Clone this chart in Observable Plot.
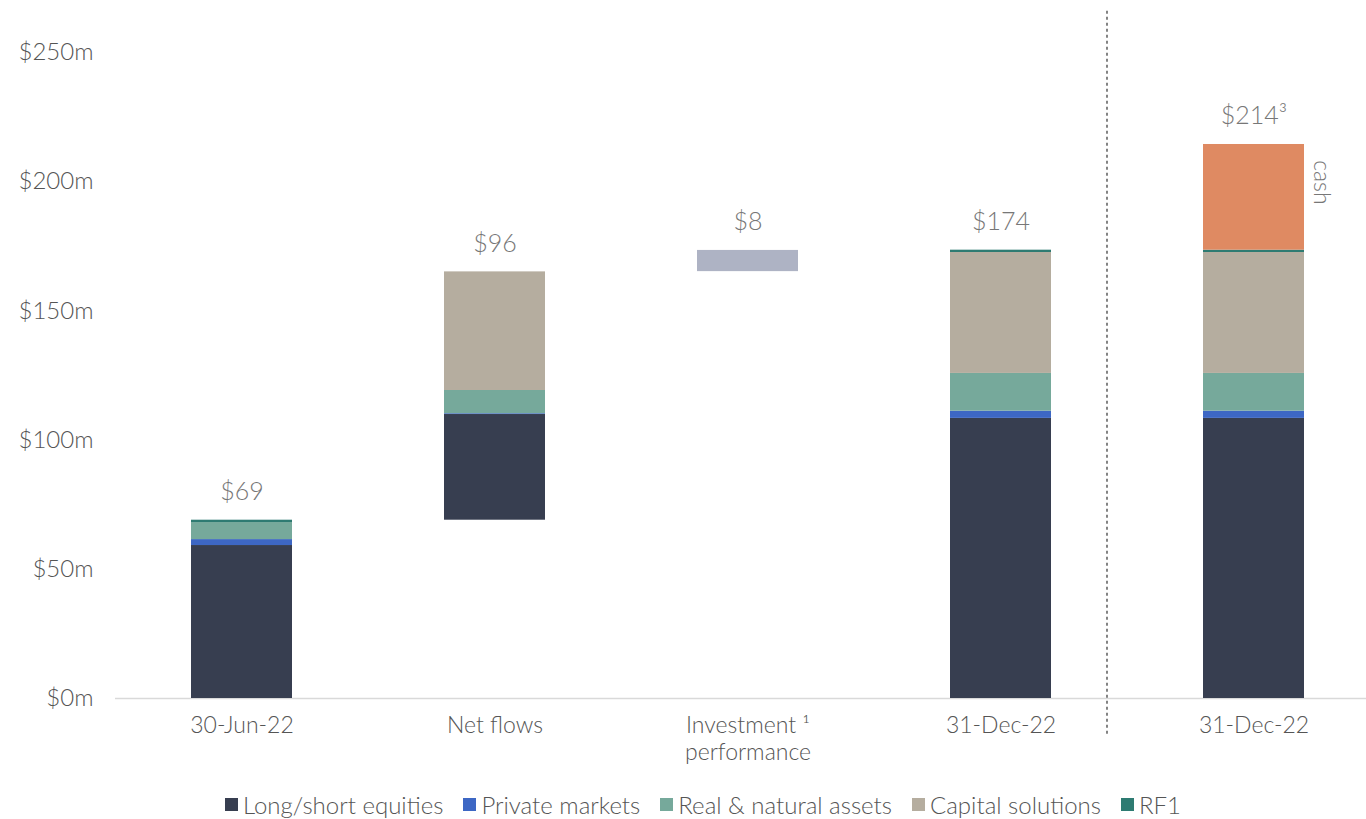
<!DOCTYPE html>
<html>
<head>
<meta charset="utf-8">
<script src="https://cdn.jsdelivr.net/npm/d3@7"></script>
<script src="https://cdn.jsdelivr.net/npm/@observablehq/plot@0.6"></script>
<style>
  html, body { margin: 0; padding: 0; background: #fff; }
  body { width: 1366px; height: 819px; overflow: hidden; font-family: Lato, "Open Sans", sans-serif; }
  #legend { display: flex; justify-content: center; gap: 20px; font-size: 24px; font-weight: 300; color: #555; margin-top: 20px; padding-left: 40px; }
  #legend span.item { display: flex; align-items: center; }
  #legend span.sw { display: inline-block; width: 13px; height: 13px; margin-right: 5px; }
</style>
</head>
<body>
<div id="chart"></div>
<div id="legend"></div>
<script>
// Categories (unique keys) and their axis labels
const categories = ["a", "b", "c", "d", "e"];
const categoryLabels = ["30-Jun-22", "Net flows", "Investment \u00B9\nperformance", "31-Dec-22", "31-Dec-22"];
// Starting base of each bar (waterfall floating bars)
const baseValues = [0, 69, 165.2, 0, 0];
// Series values per category
const series = ["Long/short equities", "Private markets", "Real & natural assets", "Capital solutions", "RF1"];
const longShort = [59.2, 40.9, 0, 108.4, 108.4];
const privateMarkets = [2.3, 0.3, 0, 2.8, 2.8];
const realNatural = [6.6, 9.0, 0, 14.6, 14.6];
const capitalSolutions = [0, 45.9, 0, 46.8, 46.8];
const rf1 = [0.9, 0, 0, 0.9, 0.9];
const investmentPerf = [0, 0, 8.2, 0, 0];
const cash = [0, 0, 0, 0, 40.9];
// Value labels
const totalLabels = ["$69", "$96", "$8", "$174", "$214\u00B3"];
const yTicks = [0, 50, 100, 150, 200, 250];

const colors = {
  "Long/short equities": "#373e50",
  "Private markets": "#3d67c4",
  "Real & natural assets": "#76a99b",
  "Capital solutions": "#b5ad9f",
  "RF1": "#2e7b72",
  "Investment performance": "#aeb3c4",
  "Cash": "#df8a62"
};

const seriesValues = {
  "Long/short equities": longShort,
  "Private markets": privateMarkets,
  "Real & natural assets": realNatural,
  "Capital solutions": capitalSolutions,
  "RF1": rf1,
  "Investment performance": investmentPerf,
  "Cash": cash
};
const stackOrder = ["Long/short equities", "Private markets", "Real & natural assets", "Capital solutions", "RF1", "Investment performance", "Cash"];

const segments = [];
const tops = [];
categories.forEach((c, i) => {
  let acc = baseValues[i];
  for (const s of stackOrder) {
    const v = seriesValues[s][i];
    if (v > 0) {
      segments.push({cat: c, series: s, y1: acc, y2: acc + v});
      acc += v;
    }
  }
  tops.push({cat: c, top: acc, label: totalLabels[i]});
});
const cashSeg = segments.find(d => d.series === "Cash");

const labelMap = new Map(categories.map((c, i) => [c, categoryLabels[i]]));

const chart = Plot.plot({
  width: 1366,
  height: 770,
  marginLeft: 115,
  marginRight: -14,
  marginTop: 52,
  marginBottom: 72,
  style: {fontFamily: "Lato, 'Open Sans', sans-serif", fontSize: "23px", fontWeight: 300, color: "#555", background: "#fff", overflow: "visible"},
  x: {domain: categories, paddingInner: 0.6, paddingOuter: 0.3, label: null},
  y: {domain: [0, 250], ticks: yTicks, label: null},
  marks: [
    Plot.axisX({tickSize: 0, tickPadding: 16, lineHeight: 1.15, fontSize: 23, tickFormat: d => labelMap.get(d)}),
    Plot.axisY({ticks: yTicks, tickSize: 0, tickPadding: 22, fontSize: 24, tickFormat: d => `$${d}m`}),
    Plot.ruleY([0], {stroke: "#d9d9d9", strokeWidth: 1.5}),
    Plot.barY(segments, {x: "cat", y1: "y1", y2: "y2", fill: d => colors[d.series], inset: 0}),
    Plot.text(tops, {x: "cat", y: "top", text: "label", dy: -28, fontSize: 25, fill: "#777", fontWeight: 300}),
    Plot.text([cashSeg], {x: "cat", y: d => (d.y1 + d.y2) / 2, text: () => "cash", rotate: 90, dx: 67, dy: -15, fontSize: 23, fill: "#777", fontWeight: 300}),
    Plot.ruleX(["d"], {y1: 266, y2: -15, dx: 106, stroke: "#333", strokeDasharray: "3,3", strokeWidth: 1.2, clip: false})
  ]
});
document.getElementById("chart").appendChild(chart);

const legend = document.getElementById("legend");
series.forEach(s => {
  const item = document.createElement("span");
  item.className = "item";
  item.innerHTML = `<span class="sw" style="background:${colors[s]}"></span>${s}`;
  legend.appendChild(item);
});
</script>
</body>
</html>
